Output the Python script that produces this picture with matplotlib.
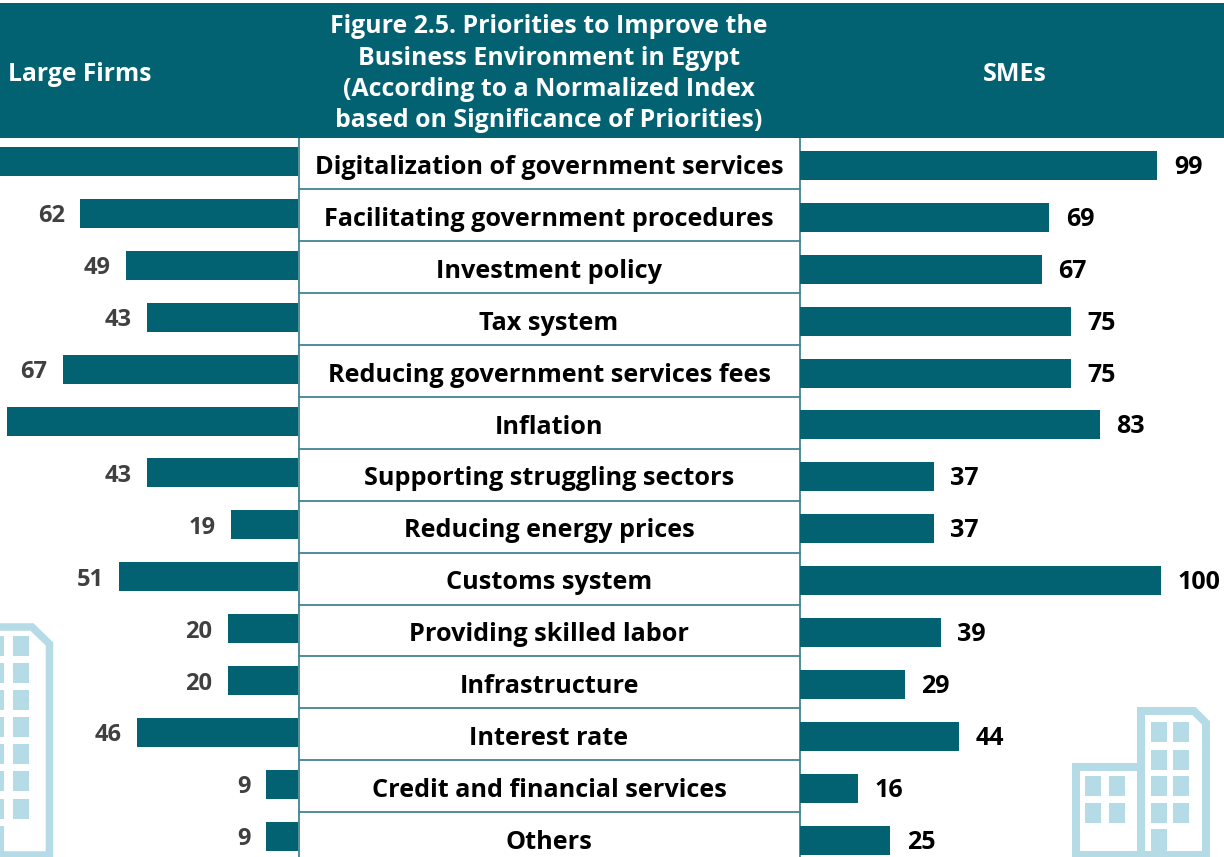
import matplotlib
matplotlib.use("Agg")
import matplotlib.pyplot as plt
from matplotlib.patches import Rectangle, Polygon

categories = ["Digitalization of government services", "Facilitating government procedures",
              "Investment policy", "Tax system", "Reducing government services fees", "Inflation",
              "Supporting struggling sectors", "Reducing energy prices", "Customs system",
              "Providing skilled labor", "Infrastructure", "Interest rate",
              "Credit and financial services", "Others"]
large_firms = [100, 62, 49, 43, 67, 83, 43, 19, 51, 20, 20, 46, 9, 9]
smes = [99, 69, 67, 75, 75, 83, 37, 37, 100, 39, 29, 44, 16, 25]
title_lines = ["Figure 2.5. Priorities to Improve the", "Business Environment in Egypt",
               "(According to a Normalized Index", "based on Significance of Priorities)"]

W, H = 1224, 857
TEAL = "#026272"
LINE = "#3f8592"
ICON = "#b5dce6"
FONT = "Open Sans"
STEP = 51.9

fig = plt.figure(figsize=(W / 100, H / 100), dpi=100, facecolor="white")
bg = fig.add_axes([0, 0, 1, 1])
bg.set_xlim(0, W)
bg.set_ylim(H, 0)
bg.axis("off")


def px_axes(x0, x1):
    ax = fig.add_axes([x0 / W, 0, (x1 - x0) / W, 1])
    ax.patch.set_alpha(0)
    ax.axis("off")
    return ax


def ylims(center):
    return ((H - center) / STEP, (0 - center) / STEP)


ypos = list(range(len(categories)))

left = px_axes(0, 298)
left.set_xlim(298 / 3.51, 0)
left.set_ylim(*ylims(161.5))
left.barh(ypos, large_firms, height=29 / STEP, color=TEAL)
for y, v in zip(ypos, large_firms):
    if v < 80:  # the two longest bars run off the page, and their labels with them
        left.annotate(str(v), (v, y), xytext=(-11, -2.2), textcoords="offset points", ha="right",
                      va="center", fontsize=17, fontweight="bold", color="#404040", family=FONT)

right = px_axes(800, W)
right.set_xlim(0, (W - 800) / 3.61)
right.set_ylim(*ylims(165.5))
right.barh(ypos, smes, height=29 / STEP, color=TEAL)
for y, v in zip(ypos, smes):
    right.annotate(str(v), (v, y), xytext=(12, -1.4), textcoords="offset points", ha="left",
                   va="center", fontsize=18, fontweight="bold", color="black", family=FONT)

# header band and centre column
bg.add_patch(Rectangle((0, 2.5), W, 135.5, color=TEAL, lw=0, zorder=3))
bg.plot([298.5, 298.5], [138, H], color=LINE, lw=1.3, zorder=2)
bg.plot([799.5, 799.5], [138, H], color=LINE, lw=1.3, zorder=2)
for i in range(len(categories) - 1):
    sep = 189.3 + i * STEP
    bg.plot([298.5, 799.5], [sep, sep], color=LINE, lw=1.3, zorder=2)
for i, c in enumerate(categories):
    bg.text(549, 167.5 + i * STEP, c, ha="center", va="center", fontsize=18.2, fontweight="bold",
            color="black", family=FONT, zorder=4)
for y, line in zip([26.5, 58.5, 89.5, 120.5], title_lines):
    bg.text(549, y, line, ha="center", va="center", fontsize=17.9, fontweight="bold",
            color="white", family=FONT, zorder=4)
bg.text(8, 74.5, "Large Firms", ha="left", va="center", fontsize=17.7, fontweight="bold",
        color="white", family=FONT, zorder=4)
bg.text(1015, 74.5, "SMEs", ha="center", va="center", fontsize=18, fontweight="bold",
        color="white", family=FONT, zorder=4)


def outline(pts, lw=7.5):
    bg.add_patch(Polygon(pts, closed=True, fill=False, edgecolor=ICON, lw=lw * 0.72,
                         joinstyle="miter", zorder=1))


def windows(xs, ys, w, h):
    for x in xs:
        for y in ys:
            bg.add_patch(Rectangle((x, y), w, h, color=ICON, lw=0, zorder=1))


# left building icon
outline([(-10, 627), (32, 627), (49.5, 644), (49.5, 855), (-10, 855)], 7.5)
windows([-12, 13], [636, 663, 690, 717, 744, 771, 799], 16, 20)
windows([-12], [826], 16, 31)

# right building icons
outline([(1141, 711), (1194, 711), (1206, 723), (1206, 855), (1141, 855)], 8)
outline([(1076, 767), (1141, 767), (1141, 855), (1076, 855)], 8)
windows([1151, 1173], [722, 750, 776, 803], 16, 20)
windows([1151], [829], 16, 28)
windows([1085, 1109], [776, 803], 16, 20)

fig.savefig("out.png", dpi=100)
